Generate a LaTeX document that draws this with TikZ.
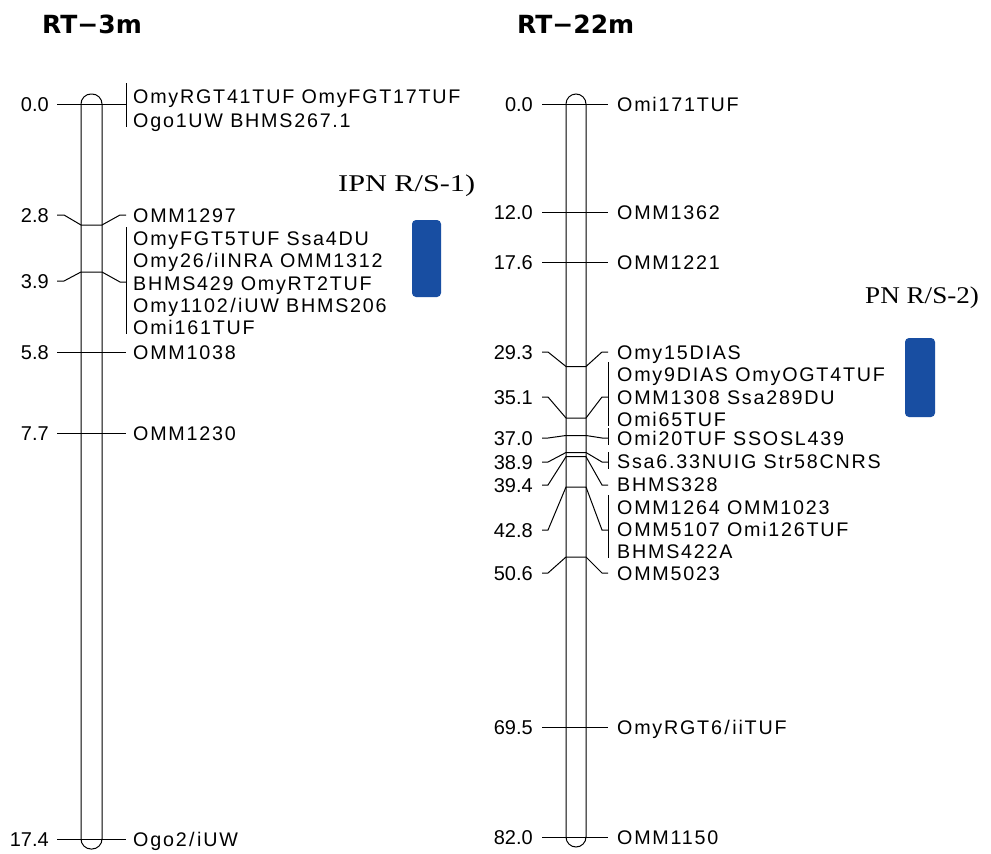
\documentclass[tikz,border=0pt]{standalone}
\usepackage{fontspec}
\usepackage{graphicx}
\setmainfont{Liberation Sans}
\newfontfamily\mkfont[LetterSpace=9]{Liberation Sans}
\newfontfamily\titlefont{DejaVu Sans}
\newfontfamily\serifont{Liberation Serif}
\definecolor{qblue}{RGB}{24,78,162}
\newcommand\sla{\kern2.5pt/\kern2.5pt}
\begin{document}
\begin{tikzpicture}[x=1pt,y=-1pt,
  mk/.style={font=\mkfont\fontsize{19.7}{22}\selectfont, inner sep=0pt, anchor=base west},
  num/.style={font=\fontsize{20}{22}\selectfont, inner sep=0pt, anchor=base east},
  ttl/.style={font=\titlefont\bfseries\fontsize{25}{28}\selectfont, inner sep=0pt, anchor=base west},
  qlab/.style={font=\serifont\fontsize{24}{26}\selectfont, inner sep=0pt, anchor=base west},
  ln/.style={line width=1pt, black},
  chrom/.style={line width=1pt, rounded corners=10pt},
  qtl/.style={fill=qblue, rounded corners=4pt, draw=none},
]
\useasboundingbox (0,0) rectangle (991,854);
\fill[white] (0,0) rectangle (991,854);

% titles
\node[ttl] (t1) at (42,33) {RT−3m};
\node[ttl] (t2) at (517,33) {RT−22m};

% QTL labels and boxes
\node[qlab] (q1) at (338,191) {\scalebox{1.26}[1]{IPN R/S-1)}};
\node[qlab] (q2) at (865,303) {\scalebox{1.13}[1]{PN R/S-2)}};
\fill[qtl] (412,220) rectangle (441,297);
\fill[qtl] (905,338) rectangle (935,417);

% ===== Left chromosome RT-3m =====
\draw[chrom] (81,94) rectangle (102,849);
\draw[ln] (57,104) -- (126,104);
\draw[ln] (126,83) -- (126,127);
\draw[ln] (57,352) -- (126,352);
\draw[ln] (57,433) -- (126,433);
\draw[ln] (57,839) -- (126,839);
\draw[ln] (57,215) -- (64,215) -- (81,225) -- (102,225) -- (120,215) -- (126,215);
\draw[ln] (57,281) -- (64,281) -- (81,272) -- (102,272) -- (120,282) -- (126,282);
\draw[ln] (126,227) -- (126,334);

\node[num] (a0) at (49,111.2) {0.0};
\node[num] (a1) at (49,222.2) {2.8};
\node[num] (a2) at (49,288.2) {3.9};
\node[num] (a3) at (49,359.2) {5.8};
\node[num] (a4) at (49,440.2) {7.7};
\node[num] (a5) at (49,846.2) {17.4};

\node[mk] (m0a) at (133,103.2) {OmyRGT41TUF OmyFGT17TUF};
\node[mk] (m0b) at (133,127.2) {Ogo1UW BHMS267.1};
\node[mk] (m1) at (133,222.2) {OMM1297};
\node[mk] (m2a) at (133,245.7) {OmyFGT5TUF Ssa4DU};
\node[mk] (m2b) at (133,267.9) {Omy26\sla iINRA OMM1312};
\node[mk] (m2c) at (133,290.1) {BHMS429 OmyRT2TUF};
\node[mk] (m2d) at (133,312.3) {Omy1102\sla iUW BHMS206};
\node[mk] (m2e) at (133,334.5) {Omi161TUF};
\node[mk] (m3) at (133,359.2) {OMM1038};
\node[mk] (m4) at (133,440.2) {OMM1230};
\node[mk] (m5) at (133,846.2) {Ogo2\sla iUW};

% ===== Right chromosome RT-22m =====
\draw[chrom] (566,94) rectangle (586,847);
\draw[ln] (542,104) -- (608,104);
\draw[ln] (542,212) -- (608,212);
\draw[ln] (542,262) -- (608,262);
\draw[ln] (542,727) -- (608,727);
\draw[ln] (542,837) -- (608,837);
\draw[ln] (542,352) -- (548,352) -- (566,366.5) -- (586,366.5) -- (602,352) -- (608,352);
\draw[ln] (542,397) -- (548,397) -- (566,418) -- (586,418) -- (602,397) -- (608,397);
\draw[ln] (542,438) -- (548,438) -- (566,435.5) -- (586,435.5) -- (602,438) -- (608,438);
\draw[ln] (542,462) -- (548,462) -- (566,452.5) -- (586,452.5) -- (602,462) -- (608,462);
\draw[ln] (542,485) -- (548,485) -- (566,456.7) -- (586,456.7) -- (602,485) -- (608,485);
\draw[ln] (542,530) -- (548,530) -- (566,487) -- (586,487) -- (602,530) -- (608,530);
\draw[ln] (542,573) -- (548,573) -- (566,557) -- (586,557) -- (602,573) -- (608,573);
\draw[ln] (608,362) -- (608,426);
\draw[ln] (608,428) -- (608,445);
\draw[ln] (608,452) -- (608,469);
\draw[ln] (608,495) -- (608,558);

\node[num] (b0) at (533,111.2) {0.0};
\node[num] (b1) at (533,219.2) {12.0};
\node[num] (b2) at (533,269.2) {17.6};
\node[num] (b3) at (533,359.2) {29.3};
\node[num] (b4) at (533,404.2) {35.1};
\node[num] (b5) at (533,445.2) {37.0};
\node[num] (b6) at (533,469.2) {38.9};
\node[num] (b7) at (533,492.2) {39.4};
\node[num] (b8) at (533,537.2) {42.8};
\node[num] (b9) at (533,580.2) {50.6};
\node[num] (b10) at (533,734.2) {69.5};
\node[num] (b11) at (533,844.2) {82.0};

\node[mk] (n0) at (617,111.2) {Omi171TUF};
\node[mk] (n1) at (617,219.2) {OMM1362};
\node[mk] (n2) at (617,269.2) {OMM1221};
\node[mk] (n3) at (617,359.2) {Omy15DIAS};
\node[mk] (n4a) at (617,381.2) {Omy9DIAS OmyOGT4TUF};
\node[mk] (n4b) at (617,404.2) {OMM1308 Ssa289DU};
\node[mk] (n4c) at (617,426.7) {Omi65TUF};
\node[mk] (n5) at (617,445.7) {Omi20TUF SSOSL439};
\node[mk] (n6) at (617,468.7) {Ssa6.33NUIG Str58CNRS};
\node[mk] (n7) at (617,491.7) {BHMS328};
\node[mk] (n8a) at (617,514.7) {OMM1264 OMM1023};
\node[mk] (n8b) at (617,536.7) {OMM5107 Omi126TUF};
\node[mk] (n8c) at (617,558.7) {BHMS422A};
\node[mk] (n9) at (617,580.7) {OMM5023};
\node[mk] (n10) at (617,734.2) {OmyRGT6\sla iiTUF};
\node[mk] (n11) at (617,844.2) {OMM1150};
\end{tikzpicture}
\end{document}
